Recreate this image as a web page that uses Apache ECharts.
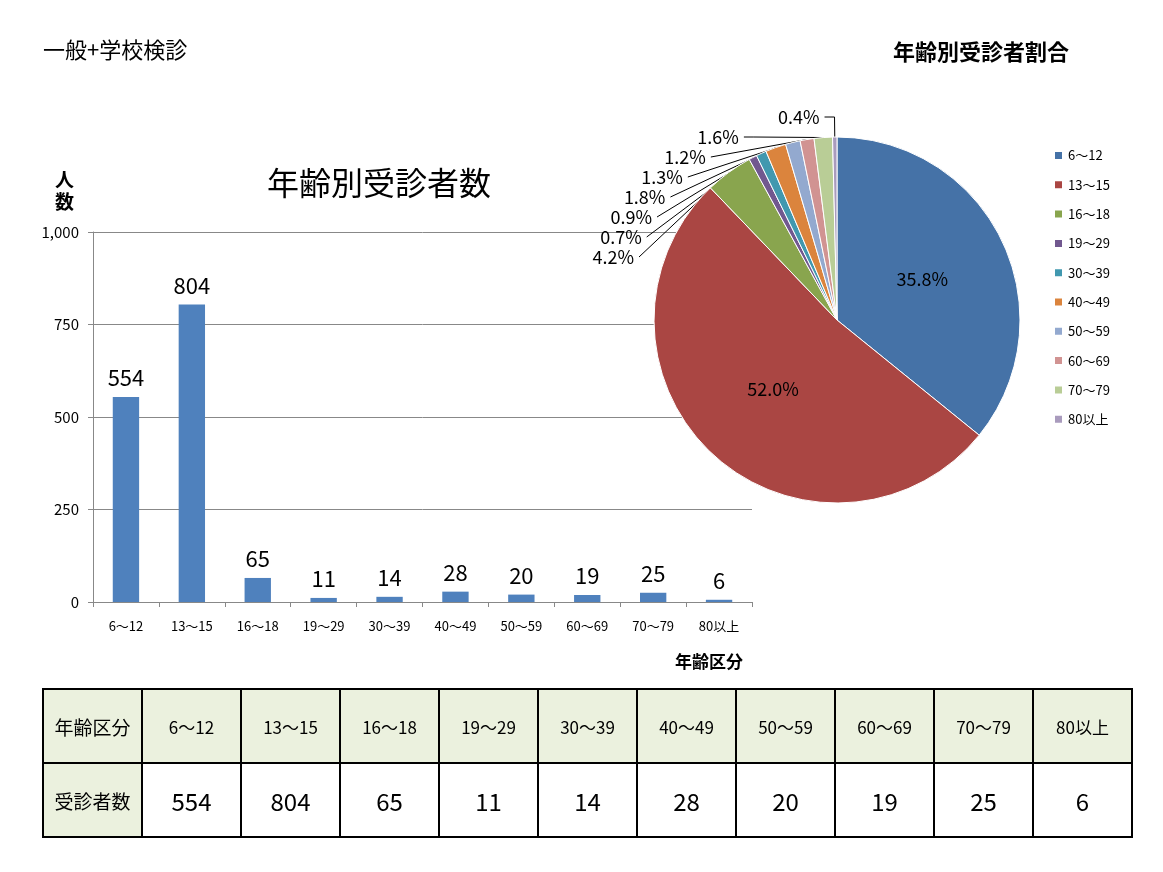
<!DOCTYPE html>
<html><head><meta charset="utf-8">
<script src="https://cdn.jsdelivr.net/npm/echarts@6/dist/echarts.min.js"></script>
<style>
body{margin:0;background:#fff;font-family:"Noto Sans CJK JP","Noto Sans",sans-serif;}
#c{position:absolute;left:0;top:0;width:1163px;height:872px;}
table{position:absolute;left:42px;top:688px;border-collapse:collapse;}
td{border:2px solid #000;width:97px;text-align:center;padding:0;}
tr.h td{height:72px;background:#ebf1de;font-size:17px;}
tr.v td{height:72px;font-size:24px;}
tr.v td:first-child{background:#ebf1de;font-size:19px;}
tr.h td:first-child{font-size:19px;}
</style></head><body>
<div id="c"></div>
<table id="t"></table>
<script>
const categories=['6～12','13～15','16～18','19～29','30～39','40～49','50～59','60～69','70～79','80以上'];
const counts=[554,804,65,11,14,28,20,19,25,6];
const yTicks=[0,250,500,750,1000];
const pieColors=['#4572A7','#AA4643','#89A54E','#71588F','#4198AF','#DB843D','#93A9CF','#D19392','#B9CD96','#A99BBD'];

const tb=document.getElementById('t');
tb.innerHTML='<tr class="h"><td>年齢区分</td>'+categories.map(c=>'<td>'+c+'</td>').join('')+'</tr>'+
 '<tr class="v"><td>受診者数</td>'+counts.map(c=>'<td>'+c+'</td>').join('')+'</tr>';

const total=counts.reduce((a,b)=>a+b,0);
const ch=echarts.init(document.getElementById('c'));
const F='"Noto Sans CJK JP","Noto Sans",sans-serif';
ch.setOption({
 animation:false,
 textStyle:{fontFamily:F},
 title:[
  {text:'一般+学校検診',left:38,top:34,textStyle:{fontSize:22,fontWeight:'normal',color:'#000',fontFamily:F}},
  {text:'年齢別受診者数',left:262,top:162,textStyle:{fontSize:32,fontWeight:'normal',color:'#000',fontFamily:F}},
  {text:'年齢別受診者割合',left:888,top:36,textStyle:{fontSize:22,fontWeight:'bold',color:'#000',fontFamily:F}},
  {text:'人\n数',left:50,top:164,textStyle:{fontSize:19,fontWeight:'bold',color:'#000',lineHeight:22,fontFamily:F}},
  {text:'年齢区分',left:670,top:648,textStyle:{fontSize:17,fontWeight:'bold',color:'#000',fontFamily:F}}
 ],
 grid:{left:93,top:232,width:659,height:370},
 xAxis:{type:'category',data:categories,axisTick:{show:true,alignWithLabel:false,length:5,lineStyle:{color:'#888'}},
  axisLine:{lineStyle:{color:'#888'}},axisLabel:{color:'#000',fontSize:13,interval:0,margin:18}},
 yAxis:{type:'value',min:0,max:1000,interval:250,axisLine:{show:true,lineStyle:{color:'#888'}},
  axisTick:{show:true,lineStyle:{color:'#888'}},splitLine:{lineStyle:{color:'#888'}},
  axisLabel:{color:'#000',fontSize:15,margin:14}},
 legend:{orient:'vertical',left:1048,top:144,itemWidth:9,itemHeight:9,itemGap:16.3,icon:'rect',
  textStyle:{fontSize:13,color:'#000'},data:categories},
 series:[
  {type:'bar',data:counts,barWidth:'40%',itemStyle:{color:'#4F81BD'},
   label:{show:true,position:'top',fontSize:22,color:'#000',distance:8}},
  {type:'pie',center:[837,320],radius:183,startAngle:90,clockwise:true,
   data:categories.map((c,i)=>({name:c,value:counts[i],itemStyle:{color:pieColors[i]},
     label:i<2?{position:'inside',fontSize:18,color:'#000'}:{position:'outside',fontSize:18,color:'#000'},
     labelLine:{show:i>=2,lineStyle:{color:'#000'}}})),
   itemStyle:{borderColor:'#fff',borderWidth:1},
   label:{formatter:p=>(p.value/total*100).toFixed(1)+'%'},
   labelLine:{length:20,length2:10},
   avoidLabelOverlap:true}
 ]
});
</script></body></html>
